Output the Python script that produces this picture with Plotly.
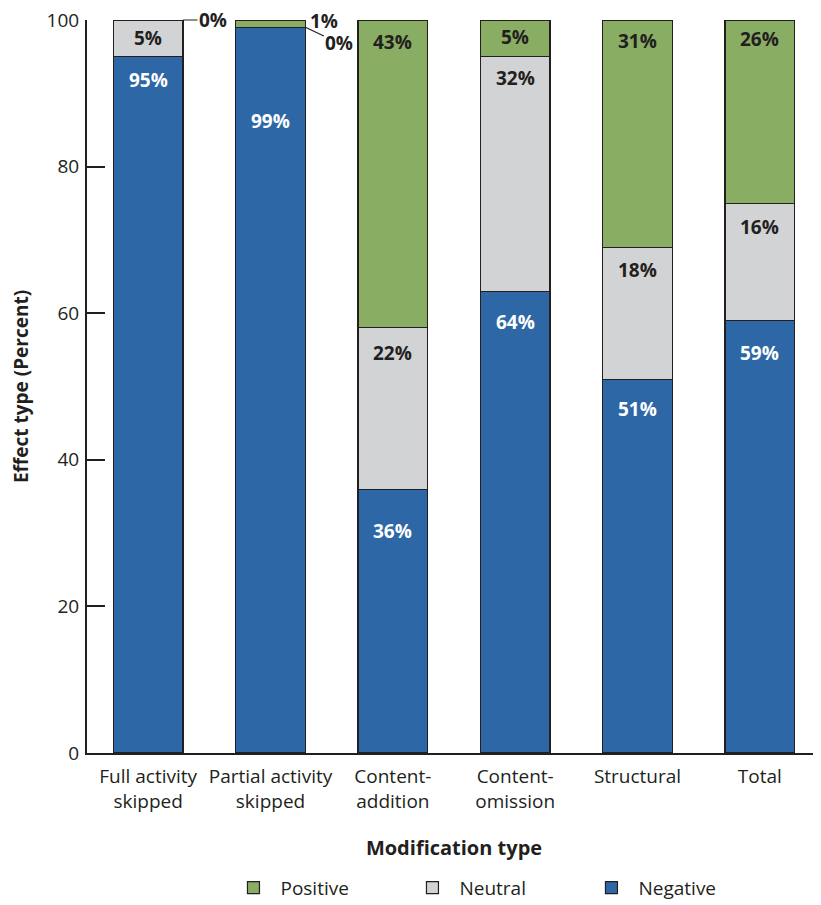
import plotly.graph_objects as go

categories = ["Full activity<br>skipped", "Partial activity<br>skipped", "Content-<br>addition",
              "Content-<br>omission", "Structural", "Total"]
# segment heights (percent)
negative = [95, 99, 36, 63, 51, 59]
neutral = [5, 0, 22, 32, 18, 16]
positive = [0, 1, 42, 5, 31, 25]
# printed labels
negative_lbl = ["95%", "99%", "36%", "64%", "51%", "59%"]
neutral_lbl = ["5%", "0%", "22%", "32%", "18%", "16%"]
positive_lbl = ["0%", "1%", "43%", "5%", "31%", "26%"]
yticks = [0, 20, 40, 60, 80, 100]

FONT = "Open Sans"
DARK = "#231f20"
C_POS = "#88ad63"
C_NEU = "#d1d3d4"
C_NEG = "#2e67a6"
x = list(range(len(categories)))
W = 0.57

fig = go.Figure()
for name, vals, col in [("Negative", negative, C_NEG), ("Neutral", neutral, C_NEU), ("Positive", positive, C_POS)]:
    fig.add_trace(go.Bar(x=x, y=vals, name=name, width=W, marker=dict(color=col, line=dict(color=DARK, width=1.2))))

ann = []
lbl_font_w = dict(family=FONT, size=19, color="white", weight="bold")
lbl_font_d = dict(family=FONT, size=19, color=DARK, weight="bold")
neg_off = [23, 94, 42, 31, 30, 32]
neu_off = [None, None, 25, 21, 23, 24]
pos_off = [None, None, 22, 17, 21, 19]
for i in x:
    top_neg = negative[i]
    ann.append(dict(x=i, y=top_neg, text=negative_lbl[i], showarrow=False, yshift=-neg_off[i], font=lbl_font_w))
    top_neu = top_neg + neutral[i]
    if neu_off[i] is not None:
        ann.append(dict(x=i, y=top_neu, text=neutral_lbl[i], showarrow=False, yshift=-neu_off[i], font=lbl_font_d))
    top_pos = top_neu + positive[i]
    if pos_off[i] is not None:
        ann.append(dict(x=i, y=top_pos, text=positive_lbl[i], showarrow=False, yshift=-pos_off[i], font=lbl_font_d))
# small-segment labels
ann.append(dict(x=0, y=negative[0] + neutral[0] / 2, text=neutral_lbl[0], showarrow=False, font=lbl_font_d))
ann.append(dict(x=0 + W / 2, y=negative[0] + neutral[0] + positive[0], text=positive_lbl[0], showarrow=True,
                arrowhead=0, arrowwidth=1.2, arrowcolor=DARK, ax=30, ay=0, standoff=0, font=lbl_font_d))
ann.append(dict(x=1 + W / 2, y=negative[1] + neutral[1] + positive[1] / 2, text=positive_lbl[1], showarrow=False,
                xanchor="left", xshift=3, yshift=3, font=lbl_font_d))
ann.append(dict(x=1 + W / 2, y=negative[1] + neutral[1], text=neutral_lbl[1], showarrow=True,
                arrowhead=0, arrowwidth=1.2, arrowcolor=DARK, ax=34, ay=16, standoff=0, font=lbl_font_d))

fig.update_layout(
    width=813, height=897,
    barmode="stack",
    plot_bgcolor="white", paper_bgcolor="white",
    margin=dict(l=79, r=0, t=12, b=152, autoexpand=False),
    font=dict(family=FONT, size=19, color=DARK),
    annotations=ann,
    legend=dict(orientation="h", traceorder="reversed", x=0.19, xanchor="left", y=-0.158, yanchor="top",
                font=dict(size=19), entrywidth=120, itemwidth=44),
    xaxis=dict(tickvals=x, ticktext=categories, range=[-0.5, 5.5], showline=True, linecolor=DARK, linewidth=2,
               ticks="", automargin=False, ticklabelstandoff=5,
               title=dict(text="<b>Modification type</b>", standoff=28, font=dict(size=20)),
               tickfont=dict(size=19)),
    yaxis=dict(range=[0, 100], tickvals=yticks, showline=True, linecolor=DARK, linewidth=2, ticks="inside",
               ticklen=18, tickwidth=2, tickcolor=DARK, showgrid=False, zeroline=False, automargin=False,
               ticklabelstandoff=2, ticklabeloverflow="allow",
               title=dict(text="<b>Effect type (Percent)</b>", standoff=16, font=dict(size=19)),
               tickfont=dict(size=19)),
    bargap=0.43,
)
fig.write_html("out.html")
